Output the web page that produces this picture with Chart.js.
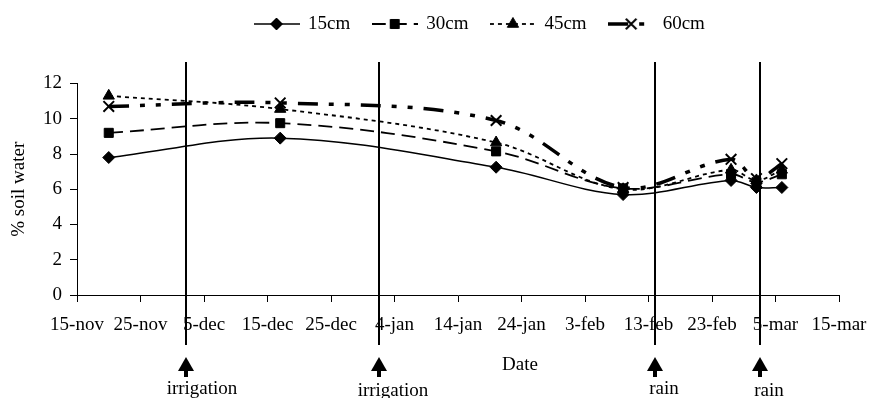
<!DOCTYPE html>
<html><head><meta charset="utf-8">
<script src="https://cdn.jsdelivr.net/npm/chart.js@4.4.1/dist/chart.umd.min.js"></script>
<style>html,body{margin:0;padding:0;background:#fff}canvas{display:block}</style>
</head><body>
<canvas id="c" width="869" height="398"></canvas>
<script>
// ---- data ----
const tickLabels = ['15-nov','25-nov','5-dec','15-dec','25-dec','4-jan','14-jan','24-jan','3-feb','13-feb','23-feb','5-mar','15-mar'];
const seriesNames = ['15cm','30cm','45cm','60cm'];
const sampleDays = [5, 32, 66, 86, 103, 107, 111];   // days after 15-nov
const soil15 = [7.8, 8.9, 7.25, 5.7, 6.5, 6.1, 6.1];
const soil30 = [9.2, 9.75, 8.15, 6.05, 6.85, 6.4, 6.85];
const soil45 = [11.3, 10.55, 8.65, 6.0, 7.1, 6.5, 7.1];
const soil60 = [10.7, 10.9, 9.9, 6.1, 7.7, 6.6, 7.45];
const eventDays = [17.1, 47.6, 91.1, 107.6];
const eventLabels = ['irrigation','irrigation','rain','rain'];

// ---- styles ----
const FONT = "'Liberation Serif', 'Times New Roman', serif";
const styles = [
  {dash: [], width: 1.5, point: 'rectRot', radius: 6, pbw: 1},
  {dash: [14, 7], width: 1.8, point: 'rect', radius: 6.4, pbw: 1},
  {dash: [4, 4], width: 1.8, point: 'triangle', radius: 6.5, pbw: 1},
  {dash: [20, 11, 5, 11, 5, 11], width: 3.5, point: 'crossRot', radius: 7.5, pbw: 2}
];
const allSeries = [soil15, soil30, soil45, soil60];

function makeSample(st) {
  const c = document.createElement('canvas');
  c.width = 46; c.height = 18;
  const g = c.getContext('2d');
  g.strokeStyle = '#000'; g.lineWidth = st.width; g.setLineDash(st.dash);
  g.beginPath(); g.moveTo(0, 9); g.lineTo(46, 9); g.stroke();
  g.setLineDash([]);
  g.fillStyle = '#000'; g.strokeStyle = '#000'; g.lineWidth = st.pbw;
  Chart.helpers.drawPoint(g, {pointStyle: st.point, radius: st.radius, rotation: 0, borderWidth: st.pbw}, 23, 9);
  return c;
}
const samples = styles.map(makeSample);

const datasets = allSeries.map((vals, i) => ({
  label: seriesNames[i],
  data: sampleDays.map((d, j) => ({x: d, y: vals[j]})),
  borderColor: '#000',
  backgroundColor: '#000',
  borderWidth: styles[i].width,
  borderDash: styles[i].dash,
  tension: 0.35,
  pointStyle: styles[i].point,
  pointRadius: styles[i].radius,
  pointBorderWidth: styles[i].pbw,
  pointBackgroundColor: '#000',
  pointBorderColor: '#000',
  fill: false
}));

const layoutTweaks = {
  id: 'layoutTweaks',
  afterLayout(chart) {
    const lg = chart.legend;
    lg.left = 232; lg.right = 869; lg.top = -8;
  }
};

const eventMarks = {
  id: 'eventMarks',
  afterDraw(chart) {
    const ctx = chart.ctx, xs = chart.scales.x;
    const dx = [16, 14, 9, 9];
    const baseY = [394, 396, 394, 396];
    ctx.save();
    ctx.fillStyle = '#000'; ctx.strokeStyle = '#000';
    ctx.font = '19px ' + FONT;
    ctx.textAlign = 'center'; ctx.textBaseline = 'alphabetic';
    eventDays.forEach((d, i) => {
      const px = Math.round(xs.getPixelForValue(d));
      ctx.lineWidth = 2;
      ctx.beginPath(); ctx.moveTo(px, 62); ctx.lineTo(px, 345); ctx.stroke();
      ctx.beginPath(); ctx.moveTo(px, 357); ctx.lineTo(px + 8, 371); ctx.lineTo(px - 8, 371); ctx.closePath(); ctx.fill();
      ctx.fillRect(px - 2, 370, 4, 7);
      ctx.fillText(eventLabels[i], px + dx[i], baseY[i]);
    });
    ctx.fillText('Date', 520, 370);
    ctx.restore();
  }
};

Chart.defaults.font.family = FONT;
Chart.defaults.font.size = 19;
Chart.defaults.color = '#000';

new Chart(document.getElementById('c'), {
  type: 'line',
  data: {datasets},
  options: {
    responsive: false,
    animation: false,
    devicePixelRatio: 1,
    events: [],
    layout: {padding: {top: 32, right: 30, bottom: 0, left: 0}},
    plugins: {
      tooltip: {enabled: false},
      legend: {
        position: 'top',
        align: 'start',
        labels: {
          usePointStyle: true,
          pointStyleWidth: 44,
          padding: 22.5,
          font: {size: 19, family: FONT},
          generateLabels(chart) {
            return chart.data.datasets.map((ds, i) => ({
              text: ds.label,
              pointStyle: samples[i],
              fillStyle: '#000', strokeStyle: '#000', lineWidth: 0,
              fontColor: '#000', hidden: false, datasetIndex: i
            }));
          }
        }
      }
    },
    scales: {
      x: {
        type: 'linear', min: 0, max: 120,
        afterFit(s) { s.height = 103; s.paddingLeft = 0; s.paddingRight = 0; },
        ticks: {
          stepSize: 10, autoSkip: false, maxRotation: 0, padding: 12,
          callback: v => tickLabels[Math.round(v / 10)]
        },
        grid: {drawOnChartArea: false, drawTicks: true, tickLength: 7, color: '#000'},
        border: {display: true, color: '#000', width: 1}
      },
      y: {
        min: 0, max: 12,
        afterFit(s) { s.width = 77; s.paddingTop = 0; s.paddingBottom = 0; },
        ticks: {stepSize: 2, padding: 8},
        grid: {drawOnChartArea: false, drawTicks: true, tickLength: 7, color: '#000'},
        border: {display: true, color: '#000', width: 1},
        title: {display: true, text: '% soil water', font: {size: 19, family: FONT}, padding: {top: 8, bottom: 0}}
      }
    }
  },
  plugins: [layoutTweaks, eventMarks]
});
</script>
</body></html>
